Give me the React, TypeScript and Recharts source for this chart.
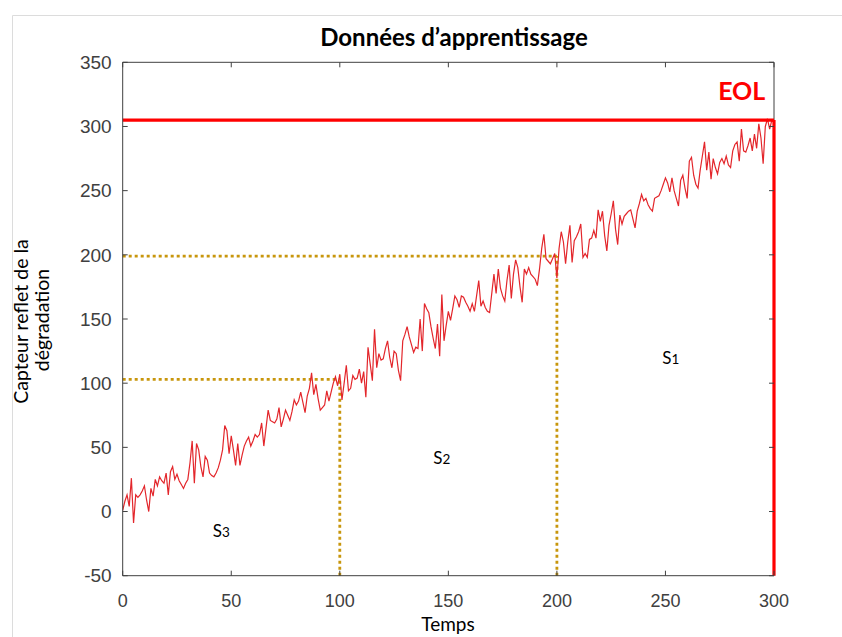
import React from 'react';
import { LineChart, Line, XAxis, YAxis, ReferenceLine, ReferenceDot } from 'recharts';

// Capteur reflet de la dégradation, one reading per unit of time (t = 0..300)
const capteur = [
  1, 8, 13, 4, 26, -9, 13, 11, 13, 16,
  20, 9, 0, 18, 12, 25, 20, 27, 24, 22,
  30, 13, 31, 35, 25, 29, 24, 21, 18, 22,
  25, 38, 55, 22, 53, 48, 35, 27, 43, 40,
  30, 28, 27, 30, 34, 40, 48, 67, 63, 45,
  59, 48, 36, 53, 36, 44, 51, 55, 58, 51,
  55, 60, 58, 60, 69, 51, 65, 79, 71, 70,
  69, 72, 81, 66, 72, 79, 75, 71, 78, 87,
  83, 86, 93, 85, 77, 90, 96, 108, 91, 99,
  88, 79, 81, 83, 94, 86, 93, 100, 105, 98,
  107, 87, 100, 114, 94, 96, 106, 103, 104, 111,
  100, 109, 89, 128, 115, 102, 142, 112, 123, 118,
  119, 127, 133, 120, 112, 125, 123, 110, 102, 133,
  138, 144, 136, 130, 124, 128, 127, 150, 125, 162,
  158, 155, 144, 135, 127, 146, 121, 169, 133, 145,
  156, 149, 158, 168, 165, 159, 168, 167, 163, 160,
  156, 162, 156, 168, 180, 160, 164, 159, 156, 155,
  170, 185, 170, 189, 174, 168, 164, 180, 192, 166,
  185, 196, 190, 175, 163, 189, 185, 190, 185, 183,
  181, 176, 189, 205, 216, 197, 195, 193, 197, 201,
  182, 205, 218, 210, 193, 210, 223, 194, 211, 214,
  218, 224, 198, 201, 198, 212, 213, 219, 213, 235,
  226, 234, 215, 203, 223, 232, 242, 220, 208, 231,
  224, 230, 232, 234, 235, 228, 221, 234, 240, 247,
  242, 244, 239, 236, 234, 244, 245, 246, 250, 255,
  260, 256, 249, 260, 250, 244, 238, 258, 262, 252,
  244, 273, 276, 262, 255, 252, 266, 277, 288, 266,
  280, 259, 275, 268, 263, 272, 275, 271, 277, 270,
  268, 281, 286, 288, 273, 298, 281, 280, 285, 291,
  281, 294, 283, 302, 291, 271, 300, 306, 298, 305,
  303,
];

const xTicks = [0, 50, 100, 150, 200, 250, 300];
const yTicks = [-50, 0, 50, 100, 150, 200, 250, 300, 350];
const xDomain = [0, 300];
const yDomain = [-50, 350];

const seuilS3 = 103;
const seuilS2 = 199;
const tempsS3 = 100;
const tempsS2 = 200;
const seuilEOL = 305;
const tempsEOL = 300;

const zoneLabels = [
  { t: 248.5, v: 115, main: 'S', sub: '1' },
  { t: 143, v: 37, main: 'S', sub: '2' },
  { t: 41.5, v: -20, main: 'S', sub: '3' },
];
const eolLabel = { t: 296, v: 320.5, text: 'EOL' };

const data = capteur.map((v, i) => ({ t: i, v }));

const AXIS = '#404040';
const GOLD = '#C8960C';
const RED = '#FF0000';
const tickFont = { fill: AXIS, fontSize: 18, fontFamily: '"Liberation Sans", Arial, sans-serif' };
const labelFont = 'Lato, "Open Sans", sans-serif';

export default function App() {
  return (
    <div style={{ position: 'absolute', left: 0, top: 0, width: 842, height: 637, background: '#fff' }}>
      <LineChart
        width={842}
        height={637}
        data={data}
        margin={{ top: 61.3, right: 67, bottom: 21.3, left: 62.7 }}
      >
        <XAxis
          dataKey="t"
          type="number"
          domain={xDomain}
          ticks={xTicks}
          height={40}
          stroke={AXIS}
          tickSize={-5}
          tickMargin={24}
          tick={tickFont}
          allowDataOverflow
        />
        <XAxis
          xAxisId="top"
          orientation="top"
          dataKey="t"
          type="number"
          domain={xDomain}
          ticks={xTicks}
          height={1}
          stroke={AXIS}
          tickSize={-5}
          tickFormatter={() => ''}
          allowDataOverflow
        />
        <YAxis
          type="number"
          domain={yDomain}
          ticks={yTicks}
          width={60}
          stroke={AXIS}
          tickSize={-5}
          tickMargin={16}
          tick={{ ...tickFont, fontSize: 19 }}
          allowDataOverflow
        />
        <YAxis
          yAxisId="right"
          orientation="right"
          type="number"
          domain={yDomain}
          ticks={yTicks}
          width={1}
          stroke={AXIS}
          axisLine={false}
          tickSize={-5}
          tickFormatter={() => ''}
          allowDataOverflow
        />
        <ReferenceLine segment={[{ x: tempsEOL, y: seuilEOL }, { x: tempsEOL, y: yDomain[1] }]} stroke={AXIS} strokeWidth={1} ifOverflow="visible" />
        <ReferenceLine segment={[{ x: 0, y: seuilS3 }, { x: tempsS3, y: seuilS3 }]} stroke={GOLD} strokeWidth={2.8} strokeDasharray="3 3" ifOverflow="visible" />
        <ReferenceLine segment={[{ x: tempsS3, y: yDomain[0] }, { x: tempsS3, y: seuilS3 }]} stroke={GOLD} strokeWidth={2.8} strokeDasharray="3 3" ifOverflow="visible" />
        <ReferenceLine segment={[{ x: 0, y: seuilS2 }, { x: tempsS2, y: seuilS2 }]} stroke={GOLD} strokeWidth={2.8} strokeDasharray="3 3" ifOverflow="visible" />
        <ReferenceLine segment={[{ x: tempsS2, y: yDomain[0] }, { x: tempsS2, y: seuilS2 }]} stroke={GOLD} strokeWidth={2.8} strokeDasharray="3 3" ifOverflow="visible" />
        <Line
          type="linear"
          dataKey="v"
          stroke="#E3262B"
          strokeWidth={1.2}
          dot={false}
          activeDot={false}
          isAnimationActive={false}
        />
        <ReferenceLine segment={[{ x: 0, y: seuilEOL }, { x: tempsEOL, y: seuilEOL }]} stroke={RED} strokeWidth={3.2} ifOverflow="visible" />
        <ReferenceLine segment={[{ x: tempsEOL, y: yDomain[0] }, { x: tempsEOL, y: seuilEOL }]} stroke={RED} strokeWidth={3.2} ifOverflow="visible" />
        {zoneLabels.map((z) => (
          <ReferenceDot
            key={z.sub}
            x={z.t}
            y={z.v}
            r={0}
            ifOverflow="visible"
            shape={(p: any) => (
              <text x={p.cx} y={p.cy} fill="#000" fontFamily={labelFont} fontSize={17}>
                <tspan>{z.main}</tspan>
                <tspan fontSize={13.5}>{z.sub}</tspan>
              </text>
            )}
          />
        ))}
        <ReferenceDot
          x={eolLabel.t}
          y={eolLabel.v}
          r={0}
          ifOverflow="visible"
          shape={(p: any) => (
            <text x={p.cx} y={p.cy} fill={RED} fontFamily={labelFont} fontWeight="bold" fontSize={25} textAnchor="end">
              {eolLabel.text}
            </text>
          )}
        />
      </LineChart>
      <svg
        width={842}
        height={637}
        style={{ position: 'absolute', left: 0, top: 0, pointerEvents: 'none' }}
      >
        <line x1={12.5} y1={15.5} x2={842} y2={15.5} stroke="#dcdcdc" strokeWidth={1} />
        <line x1={12.5} y1={15.5} x2={12.5} y2={637} stroke="#dcdcdc" strokeWidth={1} />
        <text x={454} y={46.3} textAnchor="middle" fontFamily={labelFont} fontWeight="bold" fontSize={24} fill="#000">
          Données d’apprentissage
        </text>
        <text x={448} y={631} textAnchor="middle" fontFamily={labelFont} fontSize={19} fill="#000">
          Temps
        </text>
        <text transform="translate(28,321.5) rotate(-90)" textAnchor="middle" fontFamily={labelFont} fontSize={19.5} fill="#000">
          Capteur reflet de la
        </text>
        <text transform="translate(49,320) rotate(-90)" textAnchor="middle" fontFamily={labelFont} fontSize={19.5} fill="#000">
          dégradation
        </text>
      </svg>
    </div>
  );
}
